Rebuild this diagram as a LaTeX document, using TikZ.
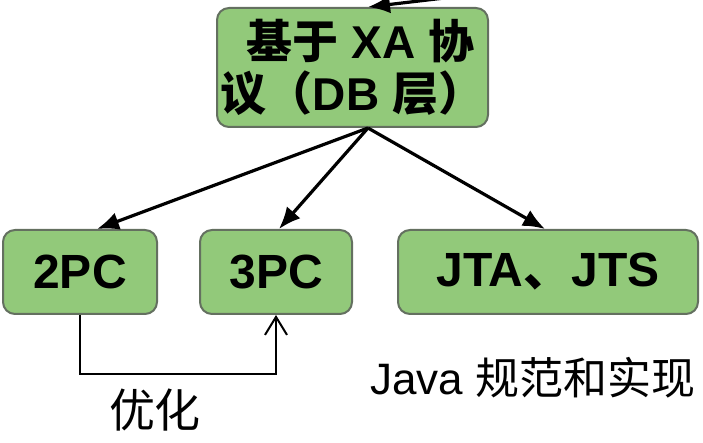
\documentclass[tikz,border=0pt]{standalone}
\usepackage{fontspec}
\setmainfont{Liberation Sans}
\newfontfamily\cjk{Noto Sans CJK SC}
\usetikzlibrary{arrows.meta, calc}
\definecolor{verdecito}{RGB}{146,201,122}
\definecolor{bordecito}{RGB}{100,112,96}
\tikzset{>=Latex}
\tikzset{box/.style={draw=bordecito, fill=verdecito, line width=1pt, rounded corners=6pt, inner sep=0pt, minimum height=42pt, align=center, font=\fontsize{24}{26}\selectfont\bfseries},
  flecha/.style={-{Latex[length=11pt,width=9pt]}, line width=1.6pt},
  etiqueta/.style={font=\fontsize{23}{26}\selectfont}}

\begin{document}
\begin{tikzpicture}[x=0.5pt, y=-0.5pt]
  \useasboundingbox (0,0) rectangle (703,443);

  \node [box, minimum width=135.5pt, minimum height=59.5pt, font=\fontsize{23}{26}\selectfont\bfseries] (xa) at (352.5,67.5) {\hspace*{8pt}{\cjk 基于} XA {\cjk 协}\\{\cjk 议（}DB {\cjk 层）}};
  \node [box, minimum width=77pt] (pc2) at (80,272) {2PC};
  \node [box, minimum width=76pt] (pc3) at (276,272) {3PC};
  \node [box, minimum width=150pt] (jta) at (548,272) {JTA{\cjk 、}JTS};

  \coordinate (entrada) at (470,-5);
  \coordinate (fork) at ($(xa.south)+(15.5,0)$);
  \draw [flecha] (entrada) -- ($(xa.north)+(15.5,0)$);
  \draw [flecha] (fork) -- ($(pc2.north)+(17,0)$);
  \draw [flecha] (fork) -- ($(pc3.north)+(3,0)$);
  \draw [flecha] (fork) -- ($(jta.north)+(-3,0)$);

  % optimizacion 2PC -> 3PC
  \draw [line width=1pt, -{Straight Barb[length=9pt,width=11pt]}] (pc2.south) -- ++(0,59) -| (pc3.south);

  \node [etiqueta] (opt) at (155,410) {\cjk 优化};
  \node [etiqueta, font=\fontsize{22}{26}\selectfont] (java) at (533,378) {Java {\cjk 规范和实现}};

\end{tikzpicture}
\end{document}
